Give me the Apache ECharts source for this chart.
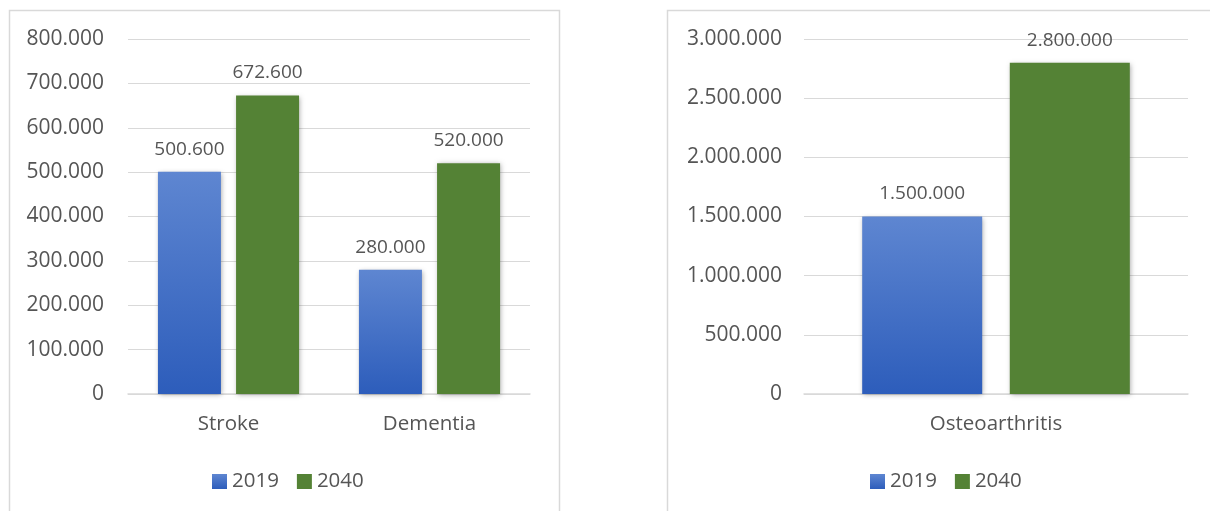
<!DOCTYPE html>
<html>
<head>
<meta charset="utf-8">
<script src="https://cdn.jsdelivr.net/npm/echarts@6/dist/echarts.min.js"></script>
<style>
html,body{margin:0;padding:0;background:#fff;}
#chart{width:1210px;height:511px;}
</style>
</head>
<body>
<div id="chart"></div>
<script>
// Data
const leftCategories = ['Stroke', 'Dementia'];
const left2019 = [500600, 280000];
const left2040 = [672600, 520000];
const rightCategories = ['Osteoarthritis'];
const right2019 = [1500000];
const right2040 = [2800000];
const seriesNames = ['2019', '2040'];

const fmt = v => String(v).replace(/\B(?=(\d{3})+(?!\d))/g, '.');
const FONT = '"Open Sans", "Noto Sans", sans-serif';
const TXT = '#555555';
const GRID = '#d9d9d9';
const blue = new echarts.graphic.LinearGradient(0, 0, 0, 1, [
  { offset: 0, color: '#5e86d1' },
  { offset: 1, color: '#2d5dbb' }
]);
const green = '#548235';
const shadow = { shadowColor: 'rgba(0,0,0,0.35)', shadowBlur: 5, shadowOffsetX: 1, shadowOffsetY: 1 };

function yAxis(gridIndex, max, interval, margin) {
  return {
    type: 'value', gridIndex, min: 0, max, interval,
    axisLine: { show: false }, axisTick: { show: false },
    splitLine: { lineStyle: { color: GRID, width: 1 } },
    axisLabel: { formatter: fmt, color: TXT, fontFamily: FONT, fontSize: 21, margin }
  };
}
function xAxis(gridIndex, data) {
  return {
    type: 'category', gridIndex, data,
    axisLine: { lineStyle: { color: GRID, width: 1.5 } },
    axisTick: { show: false },
    axisLabel: { color: TXT, fontFamily: FONT, fontSize: 20.5, margin: 20 }
  };
}
function bar(name, data, idx, color, width, gap) {
  return {
    type: 'bar', name, data, xAxisIndex: idx, yAxisIndex: idx,
    barWidth: width, barGap: gap,
    itemStyle: Object.assign({ color }, shadow),
    label: { show: true, position: 'top', distance: 13, formatter: p => fmt(p.value),
      color: TXT, fontFamily: FONT, fontSize: 19 }
  };
}
function legend(leftX) {
  return {
    data: seriesNames, left: leftX, top: 466,
    icon: 'rect', itemWidth: 15, itemHeight: 15, itemGap: 18,
    textStyle: { color: TXT, fontFamily: FONT, fontSize: 20.5, padding: [0, 0, 0, 0] },
    selectedMode: false
  };
}

const chart = echarts.init(document.getElementById('chart'), null, { renderer: 'canvas' });
chart.setOption({
  animation: false,
  backgroundColor: '#fff',
  graphic: [
    { type: 'rect', shape: { x: 9.5, y: 10.5, width: 550, height: 520 }, style: { fill: 'none', stroke: GRID, lineWidth: 1.5 }, silent: true },
    { type: 'rect', shape: { x: 667.5, y: 10.5, width: 560, height: 520 }, style: { fill: 'none', stroke: GRID, lineWidth: 1.5 }, silent: true }
  ],
  grid: [
    { left: 128, right: 1210 - 530, top: 39, bottom: 511 - 394 },
    { left: 804, right: 1210 - 1188, top: 39, bottom: 511 - 394 }
  ],
  legend: [legend(207), legend(865)],
  xAxis: [xAxis(0, leftCategories), xAxis(1, rightCategories)],
  yAxis: [yAxis(0, 800000, 100000, 24), yAxis(1, 3000000, 500000, 22)],
  series: [
    bar(seriesNames[0], left2019, 0, blue, 63, '24%'),
    bar(seriesNames[1], left2040, 0, green, 63, '24%'),
    bar(seriesNames[0], right2019, 1, blue, 120, '23%'),
    bar(seriesNames[1], right2040, 1, green, 120, '23%')
  ]
});
</script>
</body>
</html>
